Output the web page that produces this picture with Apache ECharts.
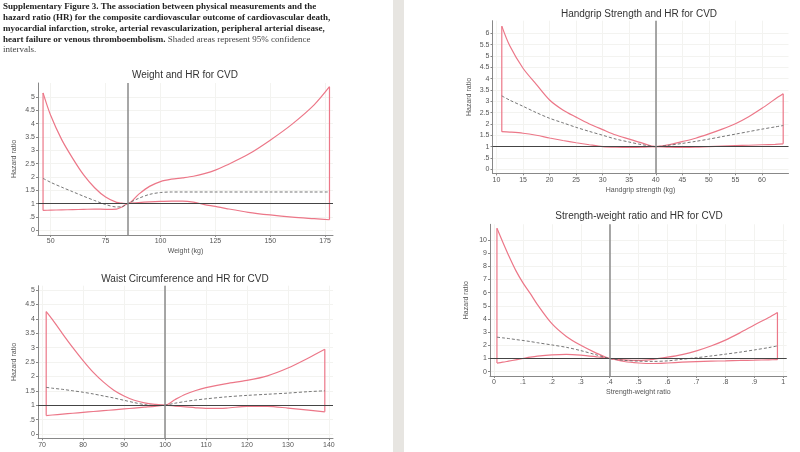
<!DOCTYPE html>
<html><head><meta charset="utf-8">
<script src="https://cdn.jsdelivr.net/npm/echarts@6/dist/echarts.min.js"></script>
<style>html,body{margin:0;padding:0;background:#fff}#c{width:800px;height:452px}</style>
</head><body><div id="c"></div>
<script>
// ---- Data ----
const weightX     = [46.5, 50, 55, 60, 65, 70, 75, 80, 82.5, 85, 90, 95, 100, 105, 110, 115, 120, 125, 130, 140, 150, 160, 170, 177];
const weightUpper = [5.15, 4.3, 3.4, 2.7, 2.08, 1.6, 1.25, 1.05, 1.02, 1.0, 1.35, 1.65, 1.83, 1.92, 1.97, 2.03, 2.13, 2.26, 2.44, 2.85, 3.38, 3.98, 4.7, 5.38];
const weightLower = [0.75, 0.76, 0.77, 0.78, 0.79, 0.8, 0.79, 0.8, 0.88, 1.0, 1.04, 1.07, 1.09, 1.1, 1.1, 1.06, 0.97, 0.9, 0.82, 0.68, 0.58, 0.5, 0.44, 0.4];
const weightHR    = [1.95, 1.8, 1.62, 1.45, 1.28, 1.12, 0.97, 0.88, 0.89, 1.0, 1.2, 1.35, 1.42, 1.44, 1.44, 1.44, 1.44, 1.44, 1.44, 1.44, 1.44, 1.44, 1.44, 1.44];
const weightRef = 85;
const weightXTicks = [50, 75, 100, 125, 150, 175];

const waistX     = [71, 72.5, 75, 77.5, 80, 82.5, 85, 87.5, 90, 92.5, 95, 97.5, 100, 102.5, 105, 107.5, 110, 115, 120, 125, 130, 135, 139];
const waistUpper = [4.25, 3.98, 3.48, 3.0, 2.55, 2.14, 1.8, 1.52, 1.32, 1.17, 1.08, 1.03, 1.0, 1.2, 1.38, 1.51, 1.61, 1.75, 1.86, 2.02, 2.29, 2.64, 2.94];
const waistLower = [0.64, 0.66, 0.69, 0.72, 0.75, 0.78, 0.81, 0.84, 0.87, 0.9, 0.93, 0.96, 1.0, 0.97, 0.94, 0.91, 0.89, 0.9, 0.96, 0.96, 0.9, 0.83, 0.77];
const waistHR    = [1.62, 1.59, 1.55, 1.5, 1.45, 1.39, 1.32, 1.25, 1.17, 1.09, 1.02, 0.99, 1.0, 1.07, 1.13, 1.18, 1.22, 1.29, 1.34, 1.38, 1.42, 1.47, 1.5];
const waistRef = 100;
const waistXTicks = [70, 80, 90, 100, 110, 120, 130, 140];

const gripX     = [11, 12.5, 15, 17.5, 20, 22.5, 25, 27.5, 30, 32.5, 35, 37.5, 40, 42.5, 45, 47.5, 50, 52.5, 55, 57.5, 60, 62.5, 64];
const gripUpper = [6.32, 5.45, 4.46, 3.75, 3.06, 2.62, 2.3, 2.0, 1.75, 1.51, 1.33, 1.15, 1.0, 1.08, 1.22, 1.37, 1.56, 1.77, 2.01, 2.32, 2.69, 3.1, 3.33];
const gripLower = [1.66, 1.64, 1.59, 1.5, 1.38, 1.27, 1.17, 1.08, 1.0, 0.97, 0.96, 0.97, 1.0, 0.97, 0.96, 0.97, 1.0, 1.02, 1.04, 1.06, 1.08, 1.1, 1.12];
const gripHR    = [3.24, 3.05, 2.78, 2.5, 2.25, 2.05, 1.85, 1.67, 1.5, 1.33, 1.2, 1.08, 1.0, 1.06, 1.14, 1.23, 1.33, 1.44, 1.55, 1.66, 1.77, 1.87, 1.93];
const gripRef = 40;
const gripXTicks = [10, 15, 20, 25, 30, 35, 40, 45, 50, 55, 60];

const swrX     = [0.01, 0.03, 0.05, 0.075, 0.1, 0.125, 0.15, 0.2, 0.25, 0.3, 0.35, 0.4, 0.45, 0.5, 0.55, 0.6, 0.65, 0.7, 0.75, 0.8, 0.85, 0.9, 0.95, 0.98];
const swrUpper = [10.9, 9.85, 8.85, 7.7, 6.75, 5.95, 5.1, 3.65, 2.68, 2.0, 1.45, 1.0, 0.9, 0.86, 0.94, 1.1, 1.3, 1.58, 1.95, 2.4, 2.95, 3.55, 4.12, 4.5];
const swrLower = [0.65, 0.72, 0.8, 0.9, 1.0, 1.1, 1.18, 1.28, 1.32, 1.26, 1.14, 1.0, 0.77, 0.66, 0.62, 0.66, 0.72, 0.77, 0.8, 0.82, 0.85, 0.87, 0.9, 0.91];
const swrHR    = [2.62, 2.57, 2.52, 2.44, 2.37, 2.29, 2.2, 2.03, 1.85, 1.6, 1.3, 1.0, 0.86, 0.8, 0.78, 0.82, 0.94, 1.06, 1.19, 1.33, 1.48, 1.65, 1.83, 1.96];
const swrRef = 0.4;
const swrXTicks = [0, 0.1, 0.2, 0.3, 0.4, 0.5, 0.6, 0.7, 0.8, 0.9, 1];

const hrTicks5  = [0, 0.5, 1, 1.5, 2, 2.5, 3, 3.5, 4, 4.5, 5];
const hrTicks6  = [0, 0.5, 1, 1.5, 2, 2.5, 3, 3.5, 4, 4.5, 5, 5.5, 6];
const hrTicks10 = [0, 1, 2, 3, 4, 5, 6, 7, 8, 9, 10];

const titles = ['Weight and HR for CVD', 'Waist Circumference and HR for CVD', 'Handgrip Strength and HR for CVD', 'Strength-weight ratio and HR for CVD'];
const xNames = ['Weight (kg)', '', 'Handgrip strength (kg)', 'Strength-weight ratio'];
const yName = 'Hazard ratio';

// ---- Layout ----
const grids = [
  {left: 38, top: 83, width: 295, height: 152},
  {left: 38, top: 285.7, width: 295, height: 152.6},
  {left: 492.5, top: 20.7, width: 296, height: 152.6},
  {left: 490, top: 224.3, width: 296.7, height: 151.7}
];
const xRanges = [[44.2, 178.6], [69.0, 141.0], [9.25, 65.0], [-0.014, 1.012]];
const yRanges = [[-0.17, 5.52], [-0.15, 5.15], [-0.18, 6.56], [-0.33, 11.2]];
const xTickSets = [weightXTicks, waistXTicks, gripXTicks, swrXTicks];
const yTickSets = [hrTicks5, hrTicks5, hrTicks6, hrTicks10];
const panels = [
  [weightX, weightUpper, weightLower, weightHR, weightRef],
  [waistX, waistUpper, waistLower, waistHR, waistRef],
  [gripX, gripUpper, gripLower, gripHR, gripRef],
  [swrX, swrUpper, swrLower, swrHR, swrRef]
];

const fmt = v => { let s = String(+v.toFixed(3)); return s.replace(/^0\./, '.'); };
const FONT = 'Liberation Sans, Arial, sans-serif';
const CI = '#ec7788';

const xAxes = [], yAxes = [], series = [], graphics = [];
grids.forEach((g, i) => {
  xAxes.push({
    type: 'value', gridIndex: i, min: xRanges[i][0], max: xRanges[i][1],
    name: xNames[i], nameLocation: 'middle', nameGap: 13,
    nameTextStyle: {fontFamily: FONT, fontSize: 7, color: '#555'},
    axisLine: {onZero: false, lineStyle: {color: '#888', width: 1}},
    axisTick: {length: 2, lineStyle: {color: '#888'}, customValues: xTickSets[i]},
    axisLabel: {fontFamily: FONT, fontSize: 7, color: '#555', margin: 3, formatter: fmt, customValues: xTickSets[i]},
    splitLine: {show: true, lineStyle: {color: '#f3f3f0', width: 1}}
  });
  yAxes.push({
    type: 'value', gridIndex: i, min: yRanges[i][0], max: yRanges[i][1],
    name: yName, nameLocation: 'middle', nameGap: 20,
    nameTextStyle: {fontFamily: FONT, fontSize: 7, color: '#555'},
    axisLine: {show: true, onZero: false, lineStyle: {color: '#888', width: 1}},
    axisTick: {show: true, length: 2, lineStyle: {color: '#888'}, customValues: yTickSets[i]},
    axisLabel: {fontFamily: FONT, fontSize: 7, color: '#555', margin: 3, formatter: fmt, customValues: yTickSets[i]},
    splitLine: {show: true, lineStyle: {color: '#f3f3f0', width: 1}}
  });
  const [xs, up, lo, hr, ref] = panels[i];
  const n = xs.length;
  const lineBase = {type: 'line', xAxisIndex: i, yAxisIndex: i, symbol: 'none', silent: true, animation: false};
  series.push(Object.assign({}, lineBase, {
    data: xs.map((x, k) => [x, up[k]]), smooth: 0.3,
    lineStyle: {color: CI, width: 1.2}, z: 3
  }));
  series.push(Object.assign({}, lineBase, {
    data: xs.map((x, k) => [x, lo[k]]), smooth: 0.3,
    lineStyle: {color: CI, width: 1.2}, z: 3
  }));
  series.push(Object.assign({}, lineBase, {
    data: [[xs[0], lo[0]], [xs[0], up[0]]],
    lineStyle: {color: CI, width: 1.2}, z: 3
  }));
  series.push(Object.assign({}, lineBase, {
    data: [[xs[n - 1], lo[n - 1]], [xs[n - 1], up[n - 1]]],
    lineStyle: {color: CI, width: 1.2}, z: 3
  }));
  series.push(Object.assign({}, lineBase, {
    data: xs.map((x, k) => [x, hr[k]]), smooth: 0.3,
    lineStyle: {color: '#666', width: 0.9, type: [3, 2]}, z: 4,
    markLine: {
      silent: true, symbol: 'none', label: {show: false}, animation: false,
      data: [
        {yAxis: 1, lineStyle: {color: '#444', width: 1, type: 'solid'}},
        {xAxis: ref, lineStyle: {color: '#8a8a8a', width: 1.5, type: 'solid'}}
      ]
    }
  }));
});

// titles
const titlePos = [[185, 75], [185, 279], [639, 14], [639, 216]];
titles.forEach((t, i) => {
  graphics.push({type: 'text', x: titlePos[i][0], y: titlePos[i][1], silent: true,
    style: {text: t, fontFamily: FONT, fontSize: 10, fill: '#333', textAlign: 'center', textVerticalAlign: 'middle'}});
});

// caption
const SERIF = 'Liberation Serif, Times New Roman, serif';
const capLines = [
  ['Supplementary Figure 3. The association between physical measurements and the', ''],
  ['hazard ratio (HR) for the composite cardiovascular outcome of cardiovascular death,', ''],
  ['myocardial infarction, stroke, arterial revascularization, peripheral arterial disease,', ''],
  ['heart failure or venous thromboembolism.', ' Shaded areas represent 95% confidence'],
  ['', 'intervals.']
];
const capY = [6.7, 17.7, 29, 40, 49.5];
capLines.forEach((l, i) => {
  graphics.push({type: 'text', x: 3, y: capY[i], silent: true,
    style: {
      text: (l[0] ? '{b|' + l[0] + '}' : '') + (l[1] ? '{n|' + l[1] + '}' : ''),
      textVerticalAlign: 'middle',
      rich: {
        b: {fontFamily: SERIF, fontSize: 9, fontWeight: 'bold', fill: '#222'},
        n: {fontFamily: SERIF, fontSize: 9, fill: '#444'}
      }
    }});
});

// page divider
graphics.push({type: 'rect', silent: true, z: -1, shape: {x: 393, y: 0, width: 11, height: 452}, style: {fill: '#e7e5e1'}});

const chart = echarts.init(document.getElementById('c'), null, {renderer: 'canvas'});
chart.setOption({
  animation: false,
  backgroundColor: '#ffffff',
  grid: grids.map(g => Object.assign({containLabel: false}, g)),
  xAxis: xAxes, yAxis: yAxes, series: series, graphic: graphics
});
</script></body></html>
